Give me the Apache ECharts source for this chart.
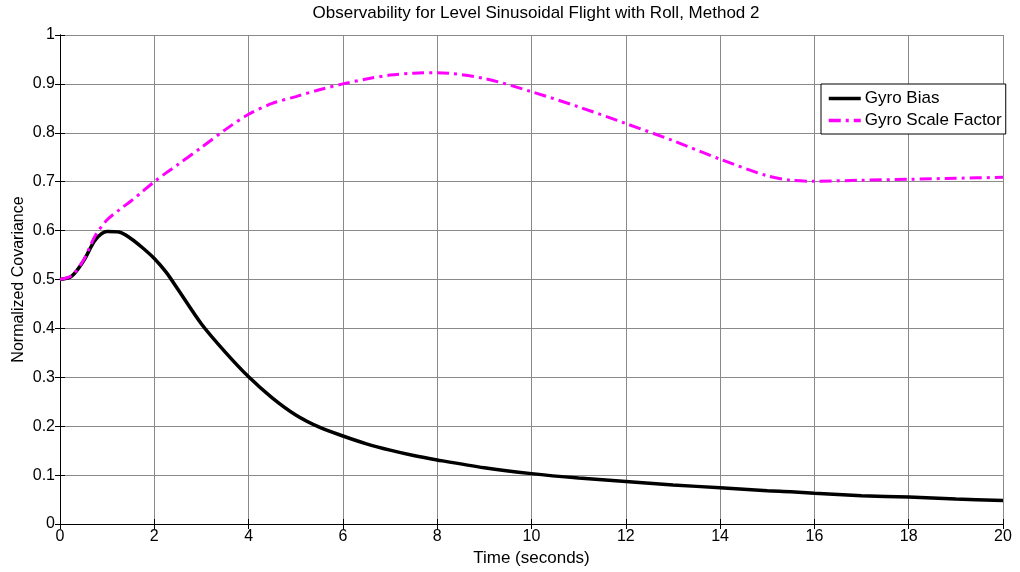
<!DOCTYPE html>
<html lang="en">
<head>
<meta charset="UTF-8">
<title>Observability</title>
<script src="https://cdn.jsdelivr.net/npm/echarts@6/dist/echarts.min.js"></script>
<style>
  html, body { margin: 0; padding: 0; background: #fff; }
</style>
</head>
<body>
<div id="main" style="width: 1020px;height: 572px;"></div>
<script type="text/javascript">
// time samples (seconds)
var timeS = [0, 0.25, 0.5, 0.75, 1, 1.25, 1.5, 1.75, 2, 2.25, 2.5, 3, 3.5, 4, 4.5, 5, 5.5, 6, 6.5, 7, 7.5, 8,
             9, 10, 11, 12, 13, 14, 15, 15.5, 16, 17, 18, 19, 20];
// normalized covariance, gyro bias
var gyroBias = [0.5, 0.507, 0.538, 0.581, 0.598, 0.597, 0.584, 0.565, 0.543, 0.515, 0.48, 0.409, 0.352, 0.301, 0.258, 0.223, 0.198, 0.18, 0.164, 0.151, 0.14, 0.131,
                0.115, 0.103, 0.094, 0.087, 0.08, 0.074, 0.068, 0.066, 0.063, 0.058, 0.055, 0.051, 0.048];
// normalized covariance, gyro scale factor
var gyroScale = [0.5, 0.508, 0.54, 0.59, 0.622, 0.642, 0.66, 0.68, 0.7, 0.718, 0.735, 0.77, 0.806, 0.838, 0.86, 0.874, 0.888, 0.9, 0.91, 0.918, 0.922, 0.923,
                 0.911, 0.884, 0.853, 0.819, 0.784, 0.746, 0.712, 0.703, 0.701, 0.703, 0.705, 0.707, 0.709];
var xTicks = [0, 2, 4, 6, 8, 10, 12, 14, 16, 18, 20];

function pairs(ys) {
    return timeS.map(function (t, i) { return [t, ys[i]]; });
}

var font = 'Liberation Sans, Arial, sans-serif';
var myChart = echarts.init(document.getElementById('main'));

var hiddenAxis = {
    axisLine: { show: true, lineStyle: { color: '#000', width: 1 } },
    axisTick: { show: true, inside: true, length: 5, lineStyle: { color: '#000' } },
    axisLabel: { show: false },
    splitLine: { show: false }
};

myChart.setOption({
    animation: false,
    backgroundColor: '#fff',
    title: {
        text: 'Observability for Level Sinusoidal Flight with Roll, Method 2',
        left: 531, top: 0, textAlign: 'center',
        textStyle: { fontFamily: font, fontSize: 17, fontWeight: 'normal', color: '#000' }
    },
    legend: {
        orient: 'vertical',
        left: 821, top: 84,
        padding: [6, 4, 5, 6],
        itemGap: 5,
        itemWidth: 32, itemHeight: 14,
        borderColor: '#000', borderWidth: 1,
        backgroundColor: '#fff',
        itemStyle: { opacity: 0 },
        lineStyle: { width: 3.5 },
        textStyle: { fontFamily: font, fontSize: 17, color: '#000', padding: [0, 0, 0, -1] },
        data: ['Gyro Bias', 'Gyro Scale Factor']
    },
    grid: { left: 60, right: 17, top: 35, bottom: 48, containLabel: false, outerBoundsMode: 'none' },
    xAxis: [{
        type: 'value', min: 0, max: 20, interval: 2,
        name: 'Time (seconds)', nameLocation: 'middle', nameGap: 25,
        nameTextStyle: { fontFamily: font, fontSize: 17, color: '#000' },
        axisLine: { show: true, lineStyle: { color: '#000', width: 1 } },
        axisTick: { show: true, inside: true, length: 5, lineStyle: { color: '#000' } },
        axisLabel: { fontFamily: font, fontSize: 16, color: '#000', margin: 5,
            formatter: function (v) { return xTicks.indexOf(v) >= 0 ? String(v) : ''; } },
        splitLine: { show: true, lineStyle: { color: '#8a8a8a', width: 1 } }
    }, Object.assign({ type: 'value', min: 0, max: 20, interval: 2, position: 'top' }, hiddenAxis)],
    yAxis: [{
        type: 'value', min: 0, max: 1, interval: 0.1,
        name: 'Normalized Covariance', nameLocation: 'middle', nameGap: 33,
        nameMoveOverlap: false,
        nameTextStyle: { fontFamily: font, fontSize: 16, color: '#000' },
        axisLine: { show: true, lineStyle: { color: '#000', width: 1 } },
        axisTick: { show: true, inside: true, length: 5, lineStyle: { color: '#000' } },
        axisLabel: { fontFamily: font, fontSize: 16, color: '#000', margin: 5,
            formatter: function (v) { return String(+v.toFixed(1)); } },
        splitLine: { show: true, lineStyle: { color: '#8a8a8a', width: 1 } }
    }, Object.assign({ type: 'value', min: 0, max: 1, interval: 0.1, position: 'right' }, hiddenAxis)],
    series: [
        {
            name: 'Gyro Bias', type: 'line',
            data: pairs(gyroBias),
            smooth: 0.3, symbol: 'none',
            color: '#000',
            lineStyle: { color: '#000', width: 3.5 }
        },
        {
            name: 'Gyro Scale Factor', type: 'line',
            data: pairs(gyroScale),
            smooth: 0.3, symbol: 'none',
            color: '#ff00ff',
            lineStyle: { color: '#ff00ff', width: 3, type: [12, 5, 3, 5] }
        }
    ]
});
</script>
</body>
</html>
